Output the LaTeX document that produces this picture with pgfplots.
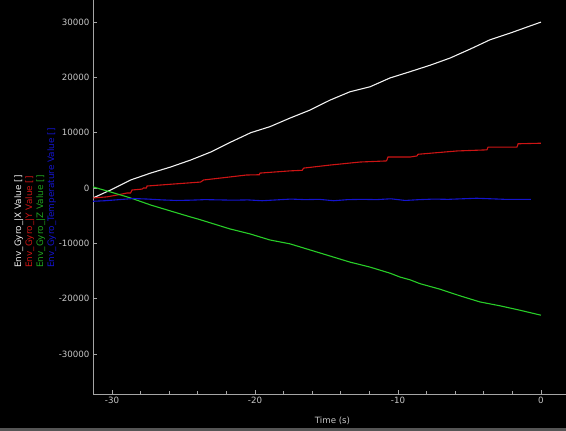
\documentclass[border=0pt]{standalone}
\usepackage{pgfplots}
\pgfplotsset{compat=1.18}
\usepackage{fontspec}
\setmainfont{DejaVu Sans}
\definecolor{axisgray}{RGB}{165,165,165}
\definecolor{lblgray}{RGB}{200,200,200}
\definecolor{stripgray}{RGB}{85,85,85}
\definecolor{cwhite}{RGB}{240,240,240}
\definecolor{cred}{RGB}{205,20,20}
\definecolor{cgreen}{RGB}{40,205,40}
\definecolor{cblue}{RGB}{20,20,205}
\begin{document}
\begin{tikzpicture}
\useasboundingbox (0bp,0bp) rectangle (566bp,431bp);
\fill[black] (0bp,0bp) rectangle (566bp,431bp);
\fill[stripgray] (0bp,0bp) rectangle (566bp,3bp);
\begin{axis}[
  at={(93bp,37bp)}, anchor=south west,
  scale only axis, width=473bp, height=394bp,
  xmin=-31.33, xmax=1.75, ymin=-37250, ymax=34000,
  xtick={-30,-20,-10,0},
  ytick={-30000,-20000,-10000,0,10000,20000,30000},
  minor x tick num=4,
  scaled y ticks=false,
  /pgf/number format/1000 sep={},
  /pgf/number format/assume math mode=true,
  axis x line*=bottom, axis y line*=left,
  axis line style={color=axisgray,-, line width=0.8bp},
  tick style={color=axisgray, line width=0.8bp},
  tick align=inside,
  major tick length=4bp, minor tick length=2.5bp,
  ticklabel style={color=lblgray, font=\fontsize{8.7}{10}\selectfont},
  xlabel={Time (s)},
  xlabel style={at={(axis description cs:0.5,0)}, anchor=base, yshift=-29bp, xshift=3bp, color=lblgray, font=\fontsize{8.7}{10}\selectfont},
  every axis plot/.append style={line width=1.1bp},
]
\addplot[cwhite] coordinates {(-31.33,-1800) (-30.1,-360) (-28.7,1450) (-27.3,2700) (-25.9,3800) (-24.5,5060) (-23.1,6500) (-21.7,8300) (-20.3,10000) (-18.95,11100) (-17.55,12650) (-16.15,14100) (-14.75,15900) (-13.36,17400) (-11.96,18300) (-10.56,19900) (-9.2,21000) (-7.76,22200) (-6.36,23500) (-4.97,25100) (-3.57,26800) (-2.17,28000) (-0.77,29300) (0,30000)};
\addplot[cred] coordinates {(-31.33,-1800) (-30.35,-1600) (-29.65,-1270) (-28.95,-900) (-28.7,-900) (-28.6,-360) (-27.9,-200) (-27.8,0) (-27.6,0) (-27.55,360) (-25.7,720) (-23.8,1080) (-23.6,1450) (-21.75,2000) (-20.6,2350) (-19.7,2400) (-19.65,2700) (-17.55,3100) (-16.7,3200) (-16.6,3600) (-14.75,4150) (-12.65,4700) (-10.8,4900) (-10.7,5600) (-9.16,5600) (-8.67,5800) (-8.6,6100) (-5.87,6700) (-3.78,6900) (-3.7,7400) (-1.68,7400) (-1.6,8000) (0,8100)};
\addplot[cgreen] coordinates {(-31.33,200) (-30.1,-720) (-28.7,-1800) (-27.3,-3070) (-25.9,-4160) (-24.5,-5240) (-24.0,-5600) (-21.75,-7400) (-20.35,-8300) (-18.95,-9400) (-17.55,-10100) (-16.15,-11200) (-14.75,-12300) (-13.36,-13400) (-11.96,-14300) (-10.56,-15400) (-9.86,-16100) (-9.16,-16600) (-8.46,-17300) (-7.76,-17800) (-7.06,-18300) (-5.66,-19500) (-4.27,-20600) (-2.87,-21300) (-1.47,-22100) (0,-23000)};
\addplot[cblue] coordinates {(-31.33,-2400) (-30.5,-2300) (-29.5,-2100) (-28.5,-1900) (-27.5,-2000) (-26.5,-2150) (-25.5,-2250) (-24.5,-2200) (-23.5,-2100) (-22.5,-2150) (-21.5,-2200) (-20.5,-2150) (-19.5,-2300) (-18.5,-2150) (-17.5,-2000) (-16.5,-2100) (-15.5,-2050) (-14.5,-2300) (-13.5,-2100) (-12.5,-2050) (-11.5,-2100) (-10.5,-1950) (-9.5,-2250) (-8.5,-2100) (-7.5,-2000) (-6.5,-2050) (-5.5,-1950) (-4.5,-1850) (-3.5,-1950) (-2.5,-2050) (-1.5,-2050) (-0.7,-2050)};
\end{axis}
\begin{scope}[every node/.style={rotate=90, anchor=base west, inner sep=0pt, font=\fontsize{8.9}{10}\selectfont}]
\node[text=cwhite] at (21bp,163bp) {Env\_Gyro\_|X Value []};
\node[text=cred] at (32bp,163bp) {Env\_Gyro\_|Y Value []};
\node[text=cgreen!80!black] at (43bp,163bp) {Env\_Gyro\_|Z Value []};
\node[text=cblue] at (54bp,163bp) {Env\_Gyro\_Temperature Value []};
\end{scope}
\end{tikzpicture}
\end{document}
